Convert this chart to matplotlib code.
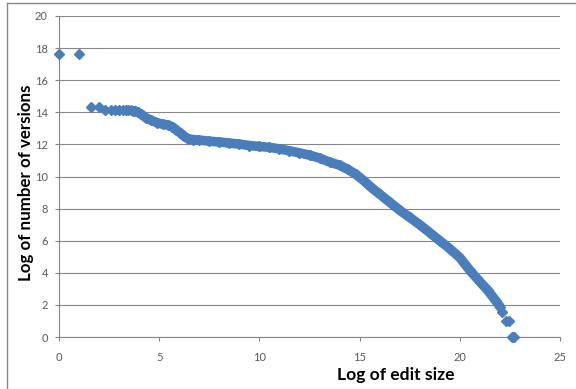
import matplotlib.pyplot as plt
from matplotlib.lines import Line2D

# small edit sizes: separate points
head_x = [0.0, 1.0, 1.58, 2.0, 2.32, 2.58, 2.81, 3.0, 3.17, 3.32, 3.46, 3.58, 3.7]
head_y = [17.65, 17.65, 14.35, 14.35, 14.15, 14.15, 14.13, 14.13, 14.13, 14.12, 14.12, 14.12, 14.1]

# dense part of the distribution
body_x = [3.81, 3.95, 4.1, 4.35, 4.6, 4.9, 5.2, 5.45, 5.65, 5.85, 6.05, 6.25, 6.45,
          6.7, 7.0, 7.5, 8.0, 8.5, 9.0, 9.5, 10.0, 10.5, 11.0, 11.5, 12.0, 12.5,
          13.0, 13.5, 14.0, 14.4, 14.8, 15.2, 15.6, 16.0, 16.5, 17.0, 17.5, 18.0,
          18.5, 19.0, 19.5, 20.0, 20.5, 21.0, 21.4, 21.8, 22.0]
body_y = [14.08, 14.0, 13.88, 13.65, 13.5, 13.35, 13.25, 13.21, 13.1, 12.9, 12.72,
          12.5, 12.35, 12.3, 12.27, 12.2, 12.15, 12.08, 12.02, 11.93, 11.87, 11.82,
          11.72, 11.6, 11.47, 11.33, 11.15, 10.9, 10.7, 10.45, 10.15, 9.75, 9.3,
          8.9, 8.4, 7.9, 7.45, 7.0, 6.5, 6.0, 5.5, 4.95, 4.15, 3.45, 2.9, 2.25, 1.9]

# largest edits
tail_x = [22.13, 22.3, 22.45, 22.58, 22.7]
tail_y = [1.58, 1.0, 1.0, 0.0, 0.0]

blue = '#4a7ebb'
grey = '#868686'

plt.rcParams['font.family'] = ['Lato', 'DejaVu Sans']

fig = plt.figure(figsize=(5.76, 3.89), dpi=100)
ax = fig.add_axes([59 / 576, 1 - 337 / 389, 501 / 576, 321 / 389])

ax.plot(body_x, body_y, color=blue, lw=6.9, solid_capstyle='round',
        marker='D', ms=5.0, mec=blue, zorder=3, clip_on=False)
ax.plot(head_x, head_y, ls='none', marker='D', ms=4.6, color=blue, zorder=3, clip_on=False)
ax.plot(tail_x, tail_y, ls='none', marker='D', ms=5.2, color=blue, zorder=3, clip_on=False)

ax.set_xlim(0, 25)
ax.set_ylim(0, 20)
ax.set_xticks(range(0, 26, 5))
ax.set_yticks(range(0, 21, 2))
ax.yaxis.grid(True, color=grey, lw=0.8)
ax.set_axisbelow(True)

for side in ['top', 'right']:
    ax.spines[side].set_visible(False)
for side in ['left', 'bottom']:
    ax.spines[side].set_color(grey)
    ax.spines[side].set_linewidth(0.8)
ax.tick_params(direction='out', length=3, width=0.8, color=grey,
               labelsize=8, labelcolor='#595959')
ax.tick_params(axis='x', pad=8)
ax.tick_params(axis='y', pad=5)

ax.set_xlabel('Log of edit size', fontsize=12.6, fontweight='bold')
ax.set_ylabel('Log of number of versions', fontsize=12.2, fontweight='bold')
ax.xaxis.set_label_coords(0.673, -0.094)
ax.yaxis.set_label_coords(-0.05, 0.48)

# chart area border
x0 = 7 / 576
y0 = 1 - 3 / 389
fig.add_artist(Line2D([x0, x0], [0, y0], color=grey, lw=1.0, transform=fig.transFigure))
fig.add_artist(Line2D([x0, 1], [y0, y0], color=grey, lw=1.0, transform=fig.transFigure))

fig.savefig('out.png', dpi=100)
